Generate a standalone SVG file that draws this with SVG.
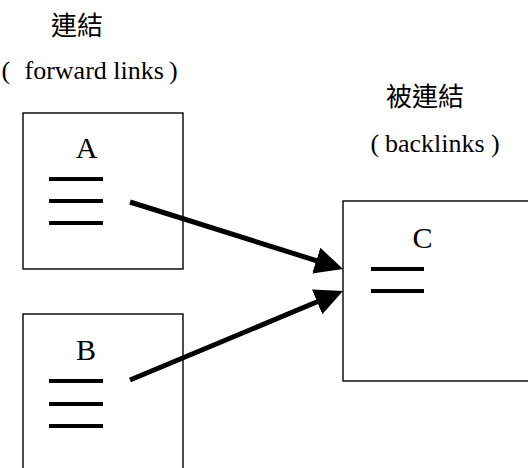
<svg xmlns="http://www.w3.org/2000/svg" width="528" height="468" viewBox="0 0 528 468">
  <style>
    .page { fill: #ffffff; stroke: #000000; stroke-width: 1.4; }
    .bar { stroke: #000000; stroke-width: 4; }
    .link { stroke: #000000; stroke-width: 5; fill: none; marker-end: url(#head); }
    .cjk { font-family: 'Noto Sans CJK TC', 'Noto Sans CJK SC', sans-serif; font-size: 26px; fill: #000000; }
    .latin { font-family: 'Liberation Serif', 'Times New Roman', Times, serif; font-size: 26px; fill: #000000; }
    .tag { font-family: 'Liberation Serif', 'Times New Roman', Times, serif; font-size: 30px; fill: #000000; }
  </style>
  <defs>
    <marker id="head" markerUnits="userSpaceOnUse" markerWidth="28" markerHeight="27" refX="4" refY="13.5" orient="auto">
      <path d="M0,0 L28,13.5 L0,27 Z" fill="#000000"/>
    </marker>
  </defs>
  <rect width="528" height="468" fill="#ffffff"/>

  <!-- captions -->
  <g id="caption-forward">
    <text class="cjk" x="77" y="34.5" text-anchor="middle">連結</text>
    <text class="latin" y="79"><tspan x="1.5">(</tspan><tspan x="24.5">forward links</tspan><tspan x="169">)</tspan></text>
  </g>
  <g id="caption-back">
    <text class="cjk" x="425" y="106" text-anchor="middle">被連結</text>
    <text class="latin" y="152"><tspan x="370.5">(</tspan><tspan x="385">backlinks</tspan><tspan x="491">)</tspan></text>
  </g>

  <!-- page A -->
  <g id="node-a">
    <rect class="page" x="23" y="113" width="160" height="156"/>
    <text class="tag" x="86.5" y="158" text-anchor="middle">A</text>
    <line class="bar" x1="49" y1="179" x2="103" y2="179"/>
    <line class="bar" x1="49" y1="201" x2="103" y2="201"/>
    <line class="bar" x1="49" y1="223" x2="103" y2="223"/>
  </g>

  <!-- page B -->
  <g id="node-b">
    <rect class="page" x="23" y="314" width="160" height="170"/>
    <text class="tag" x="86" y="360" text-anchor="middle">B</text>
    <line class="bar" x1="49" y1="381" x2="103" y2="381"/>
    <line class="bar" x1="49" y1="404" x2="103" y2="404"/>
    <line class="bar" x1="49" y1="426" x2="103" y2="426"/>
  </g>

  <!-- page C -->
  <g id="node-c">
    <rect class="page" x="343" y="201" width="200" height="180"/>
    <text class="tag" x="422.5" y="247.5" text-anchor="middle">C</text>
    <line class="bar" x1="371" y1="269" x2="424" y2="269"/>
    <line class="bar" x1="371" y1="291" x2="424" y2="291"/>
  </g>

  <!-- links -->
  <g id="connectors">
    <line class="link" x1="130" y1="202" x2="320.1" y2="261.8"/>
    <line class="link" x1="130" y1="380" x2="320.8" y2="300.3"/>
  </g>
</svg>
